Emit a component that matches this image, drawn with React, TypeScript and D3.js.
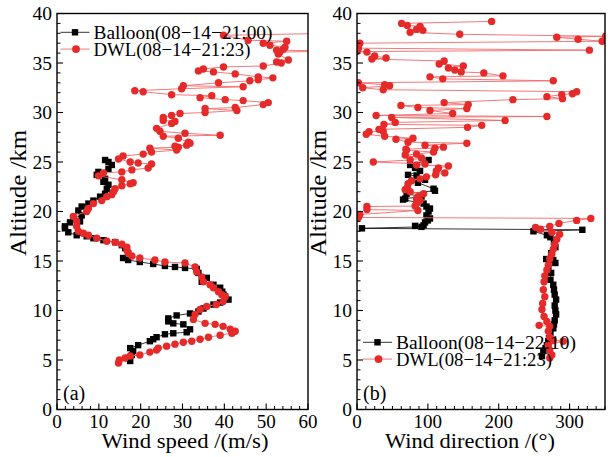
import React from 'react';
import * as d3 from 'd3';

// [altitude km, wind speed m/s]
const balloonSpeed: [number, number][] = [
  [4.9,17.5],[5.2,17.0],[5.5,17.9],[5.9,18.2],[6.2,17.5],[6.5,19.4],[6.9,22.2],[7.1,23.0],[7.3,23.8],[7.6,25.8],
  [7.7,27.8],[7.8,31.0],[8.1,31.8],[8.6,30.2],[8.7,27.8],[8.9,26.6],[9.2,26.6],[9.5,28.6],[9.7,31.8],[9.9,33.8],
  [10.2,35.0],[10.6,37.4],[10.8,39.0],[11.1,41.0],[11.4,40.2],[11.6,39.8],[11.9,39.5],[12.3,39.0],[12.6,37.4],[12.9,34.6],
  [13.3,35.8],[13.8,33.8],[14.2,33.4],[14.3,30.6],[14.4,28.2],[14.5,25.8],[14.7,23.0],[14.9,19.8],[15.1,17.0],[15.3,15.8],
  [15.8,17.0],[16.3,16.3],[16.6,15.5],[16.9,13.9],[17.1,11.1],[17.3,8.7],[17.5,7.1],[17.6,4.7],[17.9,2.7],[18.3,1.9],
  [18.5,1.9],[18.9,3.1],[19.0,5.5],[19.3,3.9],[19.6,5.9],[20.1,5.1],[20.5,5.9],[20.8,7.5],[21.1,8.7],[21.5,10.3],
  [21.8,11.5],[22.3,11.9],[22.7,12.3],[23.0,11.1],[23.3,11.5],[23.7,9.5],[24.0,9.9],[24.3,12.3],[24.7,13.1],[25.0,12.3],
  [25.2,11.5],
];

const dwlSpeed: [number, number][] = [
  [4.7,14.7],[5.0,14.9],[5.2,16.3],[5.4,17.5],[5.5,19.8],[5.8,22.2],[6.0,23.8],[6.2,24.2],[6.4,26.2],[6.6,28.2],
  [6.8,30.2],[6.9,32.2],[7.1,34.2],[7.3,36.2],[7.5,39.0],[7.7,41.8],[7.9,42.6],[8.1,41.4],[8.4,39.7],[8.6,37.8],
  [8.7,35.4],[9.1,32.6],[9.6,33.0],[10.1,34.2],[10.4,35.8],[10.6,38.1],[10.9,39.7],[11.4,40.2],[11.6,39.4],[11.9,38.6],
  [12.3,37.4],[12.6,36.6],[12.9,35.0],[13.4,34.6],[13.9,33.4],[14.4,33.0],[14.8,30.6],[14.9,25.8],[15.1,23.4],[15.3,19.8],
  [15.5,17.9],[15.8,17.0],[16.1,16.7],[16.4,16.7],[16.7,15.5],[16.9,13.9],[17.0,11.9],[17.3,9.5],[17.6,7.5],[17.8,6.3],
  [18.0,5.1],[18.5,4.7],[19.0,4.7],[19.5,3.9],[20.0,7.1],[20.3,7.5],[20.8,8.7],[21.1,10.7],[21.5,11.9],[21.7,13.1],
  [22.0,13.5],[22.3,13.9],[22.6,15.5],[22.8,17.5],[22.9,18.2],[23.2,15.5],[23.6,9.9],[23.9,11.1],[24.0,15.5],[24.2,17.9],
  [24.4,21.8],[24.8,22.6],[24.9,19.4],[25.0,17.5],[25.3,14.7],[25.6,15.8],[25.8,20.6],[26.0,22.6],[26.2,28.6],[26.4,22.2],
  [26.5,29.0],[26.6,28.2],[26.7,31.0],[26.9,31.8],[27.0,31.4],[27.4,29.0],[27.6,25.4],[27.7,39.0],[27.9,30.6],[28.1,24.6],
  [28.4,23.8],[28.9,27.4],[29.1,28.2],[29.2,25.4],[29.5,25.4],[29.7,27.4],[29.9,29.4],[30.0,35.4],[30.2,43.0],[30.4,35.4],
  [30.5,42.6],[30.8,49.3],[31.0,50.5],[31.2,44.5],[31.3,40.2],[31.5,34.2],[31.7,37.0],[31.8,27.4],[32.1,20.6],[32.2,18.6],
  [32.4,29.8],[32.6,44.5],[32.7,30.2],[33.0,38.6],[33.2,46.1],[33.3,48.1],[33.5,51.6],[33.6,48.1],[33.9,42.6],[34.1,37.4],
  [34.2,33.8],[34.4,35.0],[34.6,39.8],[34.7,49.3],[35.0,53.6],[35.1,52.5],[35.3,55.3],[35.9,52.9],[36.1,53.3],[36.2,66.0],
  [36.3,52.5],[36.4,54.1],[36.6,54.5],[36.8,50.9],[37.0,49.3],[37.2,54.9],[37.3,45.7],[37.8,39.8],[38.0,66.0],
];

// [altitude km, wind direction deg]
const balloonDir: [number, number][] = [
  [5.4,261],[5.9,263],[6.2,266],[6.5,268],[6.9,270],[7.2,271],[7.7,273],[8.2,277],[8.6,278],[9.0,279],
  [9.6,281],[10.0,280],[10.5,279],[11.1,281],[11.6,279],[12.1,278],[12.6,277],[13.1,273],[13.8,274],[14.3,270],
  [14.8,280],[15.1,277],[15.2,267],[15.8,274],[16.4,280],[16.9,278],[17.4,273],[17.6,268],[18.0,249],[18.15,318],
  [18.3,7],[18.45,91],[18.55,82],[18.6,94],[18.9,96],[19.1,100],[19.3,103],[19.6,98],[20.0,101],[20.3,103],
  [20.5,98],[20.8,94],[21.2,65],[21.3,68],[21.5,91],[21.8,70],[22.1,110],[22.3,108],[22.9,86],[23.2,96],
  [23.6,84],[23.7,72],[24.1,89],[24.4,82],[24.7,75],[25.2,101],
];

const dwlDir: [number, number][] = [
  [5.2,272],[5.5,275],[6.0,272],[6.5,270],[6.9,291],[7.0,277],[7.3,272],[7.9,270],[8.4,272],[8.5,257],
  [8.9,268],[9.4,264],[10.1,261],[10.7,262],[11.4,265],[12.1,263],[12.9,264],[13.5,265],[14.1,268],[14.6,270],
  [15.2,272],[15.7,275],[16.2,277],[16.7,279],[17.2,282],[17.7,286],[17.9,275],[18.2,259],[18.4,252],[18.5,272],
  [18.8,285],[19.1,310],[19.3,330],[19.4,2],[19.7,4],[20.1,86],[20.2,14],[20.5,14],[20.55,82],[20.8,84],
  [21.1,89],[21.3,84],[21.5,86],[21.8,94],[22.0,75],[22.2,68],[22.4,71],[22.8,72],[23.1,77],[23.3,89],
  [23.5,98],[23.7,111],[23.9,124],[24.1,112],[24.4,115],[24.6,129],[24.7,84],[24.8,96],[25.0,23],[25.2,75],
  [25.4,91],[25.7,68],[25.8,84],[26.0,108],[26.2,70],[26.3,69],[26.4,110],[26.5,122],[26.7,96],[26.9,155],
  [27.0,72],[27.3,55],[27.4,79],[27.6,39],[27.8,13],[28.05,17],[28.1,37],[28.3,31],[28.5,156],[28.7,176],
  [28.8,38],[29.0,54],[29.2,209],[29.5,49],[29.6,268],[29.7,27],[29.9,135],[30.2,103],[30.4,155],[30.5,86],
  [30.7,62],[30.8,157],[31.0,123],[31.3,220],[31.4,290],[31.6,268],[31.8,289],[31.9,304],[32.1,310],[32.3,37],
  [32.5,8],[32.7,46],[32.8,39],[33.0,2],[33.2,277],[33.4,121],[33.6,103],[33.7,206],[34.0,179],[34.1,147],
  [34.3,138],[34.5,129],[34.7,150],[34.9,116],[35.2,123],[35.4,21],[35.5,41],[35.7,25],[36.1,14],[36.15,0],
  [36.3,328],[36.5,2],[36.8,2],[37.0,4],[37.2,346],[37.4,312],[37.6,282],[37.7,351],[37.9,145],[38.1,75],
  [38.3,93],[38.4,84],[38.7,89],[38.8,71],[39.0,63],[39.2,190],
];

const altTicks = [0, 5, 10, 15, 20, 25, 30, 35, 40];
const speedTicks = [0, 10, 20, 30, 40, 50, 60];
const dirTicks = [0, 100, 200, 300];

const legendLeft = ['Balloon(08\u221214\u221221:00)', 'DWL(08\u221214\u221221:23)'];
const legendRight = ['Balloon(08\u221214\u221222:10)', 'DWL(08\u221214\u221221:23)'];

const FONT = "'Liberation Serif', 'Times New Roman', Times, 'DejaVu Serif', serif";
const RED = '#e62a2a';
const RED_LINE = '#f06a6a';

type Pt = [number, number];

const txt = (size: number) => ({ fontFamily: FONT, fontSize: size + 'px' });

function Panel(props: {
  id: string;
  xScale: d3.ScaleLinear<number, number>;
  yScale: d3.ScaleLinear<number, number>;
  majorX: number[];
  minorXStep: number;
  xMax: number;
  balloon: Pt[];
  dwl: Pt[];
  xTitle: string;
  xTitleX: number;
  xTitleLen: number;
  label: string;
  legend: string[];
  legendX: number;
  legendY: number;
  legendLens: number[];
}) {
  const { id, xScale, yScale, majorX, minorXStep, xMax, balloon, dwl } = props;
  const [x0, x1] = xScale.range();
  const [y0, y1] = yScale.range();
  const line = d3.line<Pt>().x(d => xScale(d[1])).y(d => yScale(d[0]));
  const minorX = d3.range(0, xMax + 0.001, minorXStep).filter(v => !majorX.some(m => Math.abs(m - v) < 1e-6));
  const minorY = d3.range(0, 40.001, 1).filter(v => v % 5 !== 0);
  const lx = props.legendX;
  const ly = props.legendY;
  return (
    <g>
      <defs>
        <clipPath id={id}>
          <rect x={x0} y={y1} width={x1 - x0} height={y0 - y1} />
        </clipPath>
      </defs>
      <g clipPath={`url(#${id})`}>
        <path d={line(balloon) || ''} fill="none" stroke="#000" strokeWidth={0.8} />
        {balloon.map((d, i) => (
          <rect key={'b' + i} x={xScale(d[1]) - 3.2} y={yScale(d[0]) - 3.2} width={6.4} height={6.4} fill="#000" />
        ))}
        <path d={line(dwl) || ''} fill="none" stroke={RED_LINE} strokeWidth={0.9} />
        {dwl.map((d, i) => (
          <circle key={'r' + i} cx={xScale(d[1])} cy={yScale(d[0])} r={3.7} fill={RED} />
        ))}
      </g>
      <rect x={x0} y={y1} width={x1 - x0} height={y0 - y1} fill="none" stroke="#000" strokeWidth={1.4} />
      {majorX.map(v => (
        <g key={'xm' + v}>
          <line x1={xScale(v)} x2={xScale(v)} y1={y0} y2={y0 - 6} stroke="#000" strokeWidth={1.1} />
          <text x={xScale(v)} y={428} textAnchor="middle" style={txt(19)}>{v}</text>
        </g>
      ))}
      {minorX.map(v => (
        <line key={'xn' + v} x1={xScale(v)} x2={xScale(v)} y1={y0} y2={y0 - 3.5} stroke="#000" strokeWidth={1} />
      ))}
      {altTicks.map(v => (
        <g key={'ym' + v}>
          <line x1={x0} x2={x0 + 6} y1={yScale(v)} y2={yScale(v)} stroke="#000" strokeWidth={1.1} />
          <text x={x0 - 5} y={yScale(v) + 6.5} textAnchor="end" style={txt(19.5)}>{v}</text>
        </g>
      ))}
      {minorY.map(v => (
        <line key={'yn' + v} x1={x0} x2={x0 + 3.5} y1={yScale(v)} y2={yScale(v)} stroke="#000" strokeWidth={1} />
      ))}
      <text x={props.xTitleX} y={447.5} textAnchor="middle" style={txt(22)}
        textLength={props.xTitleLen} lengthAdjust="spacingAndGlyphs">{props.xTitle}</text>
      <text transform={`translate(${x0 - 31.5},193) rotate(-90)`} textAnchor="middle" style={txt(23)}
        textLength={126} lengthAdjust="spacingAndGlyphs">Altitude /km</text>
      <text x={x0 + 6} y={400} style={txt(20)}>{props.label}</text>
      <line x1={lx} x2={lx + 29} y1={ly} y2={ly} stroke="#000" strokeWidth={0.8} />
      <rect x={lx + 14.5 - 3.2} y={ly - 3.2} width={6.4} height={6.4} fill="#000" />
      <text x={lx + 33} y={ly + 6.2} style={txt(19.5)}
        textLength={props.legendLens[0]} lengthAdjust="spacingAndGlyphs">{props.legend[0]}</text>
      <line x1={lx} x2={lx + 29} y1={ly + 16.8} y2={ly + 16.8} stroke={RED_LINE} strokeWidth={0.9} />
      <circle cx={lx + 15.5} cy={ly + 16.8} r={3.9} fill={RED} />
      <text x={lx + 33} y={ly + 16.8 + 6.8} style={txt(19.5)}
        textLength={props.legendLens[1]} lengthAdjust="spacingAndGlyphs">{props.legend[1]}</text>
    </g>
  );
}

export default function App() {
  const yScale = d3.scaleLinear().domain([0, 40]).range([409.5, 13.5]);
  const xL = d3.scaleLinear().domain([0, 60]).range([57, 308]);
  const xR = d3.scaleLinear().domain([0, 350]).range([357, 605]);
  return (
    <svg width={608} height={457} viewBox="0 0 608 457"
      style={{ position: 'absolute', left: 0, top: 0, background: '#fff' }}>
      <rect width={608} height={457} fill="#fff" />
      <Panel id="clipL" xScale={xL} yScale={yScale} majorX={speedTicks} minorXStep={2} xMax={60}
        balloon={balloonSpeed} dwl={dwlSpeed} xTitle="Wind speed /(m/s)" xTitleX={185} xTitleLen={167}
        label="(a)" legend={legendLeft} legendX={60.5} legendY={32.3} legendLens={[179, 157]} />
      <Panel id="clipR" xScale={xR} yScale={yScale} majorX={dirTicks} minorXStep={12.5} xMax={350}
        balloon={balloonDir} dwl={dwlDir} xTitle={'Wind direction /(\u00b0)'} xTitleX={470} xTitleLen={170}
        label="(b)" legend={legendRight} legendX={363} legendY={342.3} legendLens={[180, 156]} />
    </svg>
  );
}
